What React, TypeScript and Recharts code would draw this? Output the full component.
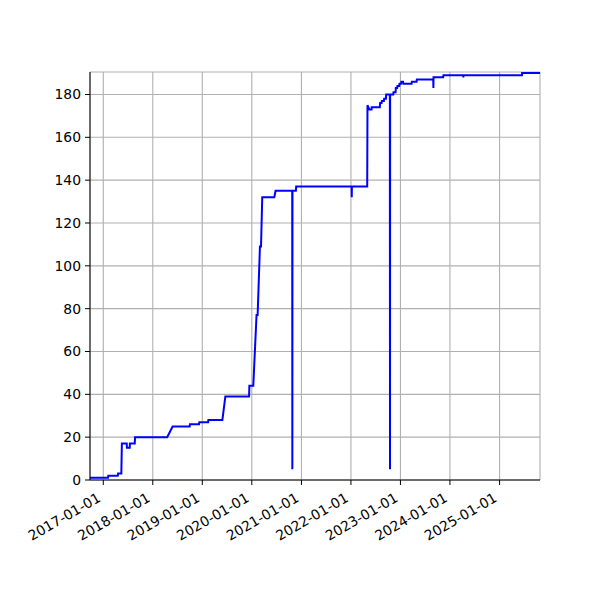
import React from 'react';
import { LineChart, Line, XAxis, YAxis, CartesianGrid } from 'recharts';

// sampled off the cumulative-count curve, one point per visible step edge
const dates = [
  '2016-09-25', '2017-02-05', '2017-02-07', '2017-04-18', '2017-04-20', '2017-05-14',
  '2017-05-18', '2017-06-23', '2017-06-24', '2017-07-15', '2017-07-16', '2017-08-21',
  '2017-08-23', '2018-04-17', '2018-05-27', '2018-09-30', '2018-10-02', '2018-12-08',
  '2018-12-10', '2019-02-13', '2019-02-15', '2019-05-29', '2019-05-31', '2019-06-20',
  '2019-12-12', '2019-12-14', '2020-01-12', '2020-02-05', '2020-02-13', '2020-03-01',
  '2020-03-09', '2020-03-18', '2020-06-15', '2020-06-24', '2020-10-25', '2020-10-26',
  '2020-10-27', '2020-11-21', '2020-11-23', '2022-01-06', '2022-01-07', '2022-01-08',
  '2022-05-01', '2022-05-03', '2022-05-16', '2022-06-02', '2022-06-03', '2022-08-02',
  '2022-08-04', '2022-08-15', '2022-08-17', '2022-09-01', '2022-09-03', '2022-09-16',
  '2022-09-18', '2022-10-15', '2022-10-16', '2022-10-17', '2022-11-09', '2022-11-11',
  '2022-11-26', '2022-11-28', '2022-12-08', '2022-12-10', '2022-12-23', '2022-12-25',
  '2023-01-05', '2023-01-08', '2023-01-20', '2023-01-22', '2023-03-24', '2023-03-26',
  '2023-04-30', '2023-05-02', '2023-08-31', '2023-09-01', '2023-09-02', '2023-11-12',
  '2023-11-14', '2024-04-08', '2024-04-09', '2024-04-10', '2025-06-15', '2025-06-16',
  '2025-10-26',
];

const counts = [
  1, 1, 2, 2, 3, 3,
  17, 17, 15, 15, 17, 17,
  20, 20, 25, 25, 26, 26,
  27, 27, 28, 28, 29, 39,
  39, 44, 44, 77, 77, 109,
  109, 132, 132, 135, 135, 5,
  135, 135, 137, 137, 132, 137,
  137, 175, 173, 173, 174, 174,
  176, 176, 177, 177, 178, 178,
  180, 180, 5, 180, 180, 181,
  181, 183, 183, 184, 184, 185,
  185, 186, 186, 185, 185, 186,
  186, 187, 187, 183, 188, 188,
  189, 189, 188, 189, 189, 190,
  190,
];

const yearTicks = [
  '2017-01-01', '2018-01-01', '2019-01-01', '2020-01-01', '2021-01-01',
  '2022-01-01', '2023-01-01', '2024-01-01', '2025-01-01',
];

const countTicks = [0, 20, 40, 60, 80, 100, 120, 140, 160, 180];

const toTs = (d: string) => Date.parse(d + 'T00:00:00Z');

const data = dates.map((d, i) => ({ ts: toTs(d), count: counts[i] }));
const xTicks = yearTicks.map(toTs);
const xDomain = [toTs(dates[0]), toTs(dates[dates.length - 1])];

const FONT = 'DejaVu Sans, sans-serif';

// rotated like autofmt_xdate: right end of the baseline sits just under the tick
function DateTick(props: any) {
  const { x, y, payload } = props;
  const label = new Date(payload.value).toISOString().slice(0, 10);
  const bx = x - 1.6;
  const by = y + 11.7;
  return (
    <text
      x={bx}
      y={by}
      textAnchor="end"
      transform={`rotate(-30, ${bx}, ${by})`}
      fontSize={13.9}
      fontFamily={FONT}
      fill="#000"
    >
      {label}
    </text>
  );
}

export default function App() {
  return (
    <div style={{ position: 'absolute', left: 0, top: 0, background: '#fff' }}>
      <LineChart
        width={600}
        height={600}
        data={data}
        margin={{ top: 72, right: 60, bottom: 0, left: 30 }}
      >
        <CartesianGrid stroke="#b0b0b0" strokeWidth={1.1} />
        <XAxis
          dataKey="ts"
          type="number"
          domain={xDomain}
          ticks={xTicks}
          interval={0}
          allowDataOverflow
          tick={<DateTick />}
          tickSize={5}
          tickMargin={4}
          height={120}
          stroke="#000"
          tickLine={{ stroke: '#000' }}
        />
        <XAxis
          xAxisId="top"
          orientation="top"
          type="number"
          domain={xDomain}
          tick={false}
          tickLine={false}
          height={0}
          stroke="#000"
        />
        <YAxis
          type="number"
          domain={[0, 190.5]}
          ticks={countTicks}
          interval={0}
          allowDataOverflow
          tickSize={5}
          tickMargin={4}
          width={60}
          stroke="#000"
          tick={{ fontSize: 13.9, fontFamily: FONT, fill: '#000' }}
        />
        <YAxis
          yAxisId="right"
          orientation="right"
          type="number"
          domain={[0, 190.5]}
          tick={false}
          tickLine={false}
          width={0}
          stroke="#000"
        />
        <Line
          type="linear"
          dataKey="count"
          stroke="#0000ff"
          strokeWidth={2}
          dot={false}
          isAnimationActive={false}
        />
      </LineChart>
    </div>
  );
}
